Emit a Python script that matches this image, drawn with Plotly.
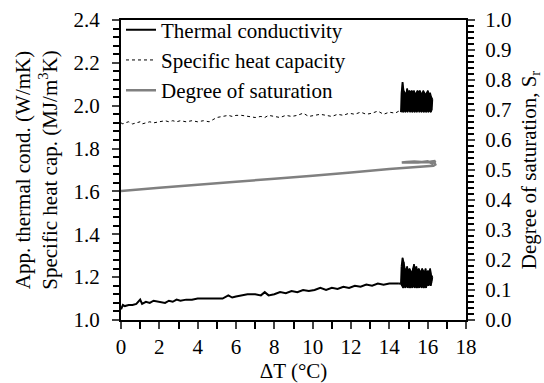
import plotly.graph_objects as go

# ---------------- data ----------------
# Thermal conductivity (W/mK) - smooth part
tc_dt = [0, 0.1, 0.2, 0.4, 0.6, 0.8, 1.0, 1.1, 1.3, 1.5, 1.7, 2.0, 2.3, 2.5, 2.7, 2.9, 3.1, 3.4, 3.7, 4.0,
         4.3, 4.6, 5.0, 5.3, 5.6, 5.8, 6.0, 6.3, 6.6, 7.0, 7.3, 7.5, 7.7, 8.0, 8.3, 8.6, 8.9, 9.2, 9.5, 9.8,
         10.1, 10.4, 10.7, 11.0, 11.3, 11.6, 11.9, 12.2, 12.5, 12.8, 13.1, 13.4, 13.7, 14.0, 14.3, 14.5]
tc_val = [1.05, 1.07, 1.065, 1.07, 1.07, 1.075, 1.095, 1.075, 1.085, 1.08, 1.09, 1.085, 1.08, 1.09, 1.085,
          1.095, 1.09, 1.095, 1.095, 1.10, 1.10, 1.10, 1.10, 1.10, 1.115, 1.105, 1.11, 1.115, 1.12, 1.12,
          1.115, 1.13, 1.115, 1.12, 1.13, 1.125, 1.135, 1.13, 1.14, 1.135, 1.14, 1.15, 1.14, 1.15, 1.145,
          1.155, 1.15, 1.16, 1.155, 1.165, 1.16, 1.17, 1.165, 1.17, 1.17, 1.17]

# Specific heat capacity (MJ/m3K) - smooth part (same dT points)
shc_val = [1.92, 1.915, 1.92, 1.925, 1.915, 1.92, 1.925, 1.915, 1.92, 1.925, 1.92, 1.925, 1.93, 1.925, 1.93,
           1.925, 1.93, 1.925, 1.93, 1.925, 1.93, 1.925, 1.945, 1.95, 1.955, 1.95, 1.955, 1.955, 1.95, 1.945,
           1.95, 1.945, 1.955, 1.95, 1.945, 1.955, 1.95, 1.955, 1.965, 1.95, 1.955, 1.96, 1.955, 1.95, 1.96,
           1.955, 1.965, 1.96, 1.97, 1.96, 1.965, 1.975, 1.96, 1.97, 1.965, 1.975]

# Noisy end section (dT ~14.6 - 16.3)
noisy_dt = [14.60, 14.63, 14.66, 14.69, 14.72, 14.75, 14.78, 14.81, 14.84, 14.87, 14.90, 14.93, 14.96, 14.99,
            15.02, 15.05, 15.08, 15.11, 15.14, 15.17, 15.20, 15.23, 15.26, 15.29, 15.32, 15.35, 15.38, 15.41,
            15.44, 15.47, 15.50, 15.53, 15.56, 15.59, 15.62, 15.65, 15.68, 15.71, 15.74, 15.77, 15.80, 15.83,
            15.86, 15.89, 15.92, 15.95, 15.98, 16.01, 16.04, 16.07, 16.10, 16.13, 16.16, 16.19, 16.22, 16.25]
tc_noisy = [1.17, 1.25, 1.16, 1.29, 1.15, 1.27, 1.16, 1.24, 1.15, 1.23, 1.17, 1.25, 1.15, 1.22, 1.16, 1.24,
            1.15, 1.23, 1.16, 1.21, 1.15, 1.24, 1.17, 1.26, 1.15, 1.23, 1.16, 1.25, 1.15, 1.22, 1.16, 1.24,
            1.15, 1.23, 1.17, 1.22, 1.15, 1.24, 1.16, 1.23, 1.15, 1.22, 1.16, 1.24, 1.15, 1.21, 1.17, 1.23,
            1.16, 1.22, 1.17, 1.24, 1.16, 1.21, 1.18, 1.20]
shc_noisy = [1.97, 2.06, 1.98, 2.11, 1.97, 2.07, 1.98, 2.06, 1.97, 2.05, 1.98, 2.08, 1.97, 2.06, 1.99, 2.07,
             1.97, 2.06, 1.98, 2.07, 1.97, 2.06, 1.98, 2.07, 1.97, 2.05, 1.98, 2.06, 1.97, 2.07, 1.99, 2.06,
             1.97, 2.07, 1.98, 2.06, 1.97, 2.05, 1.98, 2.07, 1.97, 2.06, 1.98, 2.05, 1.97, 2.06, 1.98, 2.07,
             1.97, 2.05, 1.98, 2.06, 1.97, 2.04, 1.98, 2.03]

# Degree of saturation (right axis)
sr_dt = [0, 2, 4, 6, 8, 10, 12, 14, 16.3, 16.4, 16.35, 16.4, 16.2, 16.0, 15.8, 15.5, 15.2, 14.9, 14.65,
         14.9, 15.3, 15.7, 16.0, 16.3]
sr_val = [0.430, 0.441, 0.451, 0.461, 0.471, 0.481, 0.492, 0.503, 0.514, 0.518, 0.525, 0.530, 0.528, 0.526,
          0.527, 0.525, 0.526, 0.525, 0.525, 0.527, 0.528, 0.527, 0.529, 0.520]

x_ticks = [0, 2, 4, 6, 8, 10, 12, 14, 16, 18]

FONT = "Liberation Serif, Times New Roman, serif"

fig = go.Figure()


def add_band(xs, ys, group):
    # lower envelope (troughs) then upper envelope (peaks) filled in between, then the raw zigzag
    fig.add_trace(go.Scatter(x=xs[0::2], y=ys[0::2], mode="lines", showlegend=False, legendgroup=group,
                             line=dict(color="black", width=1.5), hoverinfo="skip"))
    fig.add_trace(go.Scatter(x=xs[1::2], y=ys[1::2], mode="lines", showlegend=False, legendgroup=group,
                             fill="tonexty", fillcolor="black",
                             line=dict(color="black", width=1.5), hoverinfo="skip"))
    fig.add_trace(go.Scatter(x=xs, y=ys, mode="lines", showlegend=False, legendgroup=group,
                             line=dict(color="black", width=1.5, simplify=False)))


fig.add_trace(go.Scatter(x=tc_dt, y=tc_val, mode="lines", legendgroup="tc",
                         name="Thermal conductivity", line=dict(color="black", width=2)))
fig.add_trace(go.Scatter(x=tc_dt[-1:] + noisy_dt[:1], y=tc_val[-1:] + tc_noisy[:1], mode="lines",
                         legendgroup="tc", showlegend=False, line=dict(color="black", width=2)))
add_band(noisy_dt, tc_noisy, "tc")
fig.add_trace(go.Scatter(x=tc_dt, y=shc_val, mode="lines", name="Specific heat capacity",
                         line=dict(color="black", width=1, dash="dot"), legendgroup="shc"))
add_band(noisy_dt, shc_noisy, "shc")
fig.add_trace(go.Scatter(x=sr_dt, y=sr_val, mode="lines", name="Degree of saturation", yaxis="y2",
                         line=dict(color="#808080", width=2.5, simplify=False)))

fig.update_layout(
    width=544, height=383,
    margin=dict(l=121, r=78, t=20, b=63, autoexpand=False),
    paper_bgcolor="white", plot_bgcolor="white",
    font=dict(family=FONT, size=21, color="black"),
    showlegend=True,
    legend=dict(x=0.0, y=1.035, xanchor="left", yanchor="top", bgcolor="rgba(0,0,0,0)",
                font=dict(family=FONT, size=21), itemwidth=30, tracegroupgap=0,
                traceorder="normal"),
    xaxis=dict(range=[0, 18], tickvals=x_ticks, ticks="outside", ticklen=7, tickwidth=1.5,
               showline=True, linecolor="black", linewidth=2, mirror=True, showgrid=False, zeroline=False,
               automargin=True,
               minor=dict(dtick=1, ticks="outside", ticklen=7, tickwidth=1.5, tickcolor="black"),
               title=dict(text="ΔT (°C)", standoff=2, font=dict(family=FONT, size=21)),
               tickfont=dict(family=FONT, size=21)),
    yaxis=dict(range=[1.0, 2.4], dtick=0.2, tickformat=".1f", ticks="outside", ticklen=7, tickwidth=1.5,
               showline=True, linecolor="black", linewidth=2, showgrid=False, zeroline=False,
               automargin=True,
               minor=dict(dtick=0.04, ticks="outside", ticklen=6, tickwidth=1.5, tickcolor="black"),
               ticklabelstandoff=8,
               title=dict(text="App. thermal cond. (W/mK)<br>Specific heat cap. (MJ/m<sup>3</sup>K)", standoff=10,
                          font=dict(family=FONT, size=21)),
               tickfont=dict(family=FONT, size=21)),
    yaxis2=dict(range=[0, 1.0], dtick=0.1, tickformat=".1f", overlaying="y", side="right", ticks="outside",
                ticklen=7, tickwidth=1.5, showline=True, linecolor="black", linewidth=2, showgrid=False,
                zeroline=False, ticklabelstandoff=6, automargin=True,
                minor=dict(dtick=0.02, ticks="outside", ticklen=6, tickwidth=1.5, tickcolor="black"),
                title=dict(text="Degree of saturation, S<sub>r</sub>", standoff=10, font=dict(family=FONT, size=21)),
                tickfont=dict(family=FONT, size=21)),
)

fig.write_html("out.html")
